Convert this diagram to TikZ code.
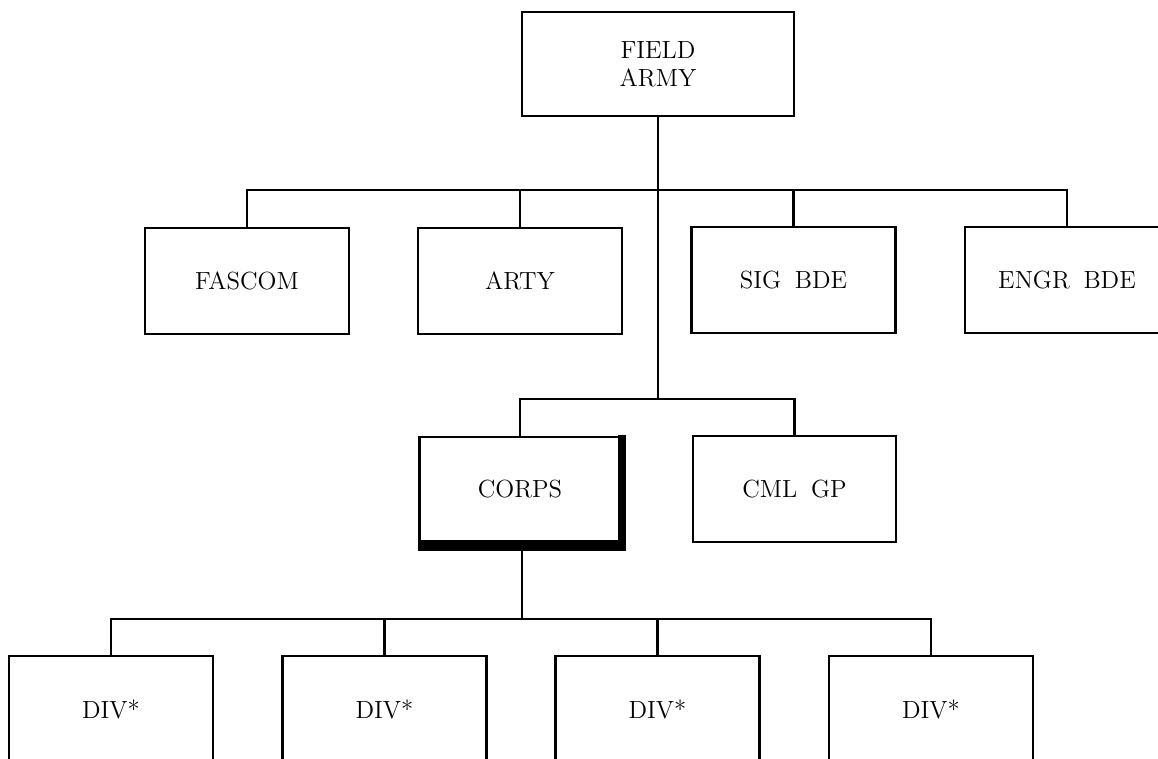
\documentclass[tikz,border=0pt]{standalone}
\usetikzlibrary{calc}
\begin{document}
\begin{tikzpicture}[x=0.5pt,y=-0.5pt,
  orgbox/.style={draw=black,line width=1.2pt,rectangle,inner sep=0pt,
    minimum width=102pt,minimum height=53pt,align=center,
    font=\fontsize{12.4}{14}\selectfont},
  link/.style={draw=black,line width=1.2pt}]
\useasboundingbox (0,0) rectangle (1158,759);
% nodes
\node[orgbox,minimum width=136pt,minimum height=52pt] (fa) at (658,64) {FIELD\\ARMY};
\node[orgbox] (fascom) at (247,281) {FASCOM};
\node[orgbox] (arty) at (520,281) {ARTY};
\node[orgbox] (sig) at (793.5,280) {SIG\hspace{0.55em}BDE};
\node[orgbox] (engr) at (1067,280) {ENGR\hspace{0.55em}BDE};
\node[orgbox,minimum width=100.5pt,minimum height=52.5pt] (corps) at (520,489.5) {CORPS};
\node[orgbox,minimum width=101.5pt] (cml) at (794.5,489) {CML\hspace{0.55em}GP};
\node[orgbox] (div1) at (111,709) {DIV*};
\node[orgbox] (div2) at (384.5,709) {DIV*};
\node[orgbox] (div3) at (657.5,709) {DIV*};
\node[orgbox] (div4) at (931,709) {DIV*};
% shadow of CORPS
\fill[black] ($(corps.north east)+(-4,-1)$) rectangle ($(corps.south east)+(4,8)$);
\fill[black] ($(corps.south west)+(0,-3)$) rectangle ($(corps.south east)+(4,8)$);
% junctions
\coordinate (j1) at (658,190);
\coordinate (j2) at (658,399);
\coordinate (j3) at (522,619);
% connectors
\draw[link] (fa.south) -- (j2);
\draw[link] (fascom.north) |- (engr.north |- j1) -- (engr.north);
\draw[link] (arty.north) -- (arty.north |- j1);
\draw[link] (sig.north) -- (sig.north |- j1);
\draw[link] (corps.north) |- (cml.north |- j2) -- (cml.north);
\draw[link] ($(corps.south)+(2,8)$) -- (j3);
\draw[link] (div1.north) |- (div4.north |- j3) -- (div4.north);
\draw[link] (div2.north) -- (div2.north |- j3);
\draw[link] (div3.north) -- (div3.north |- j3);
\end{tikzpicture}
\end{document}
